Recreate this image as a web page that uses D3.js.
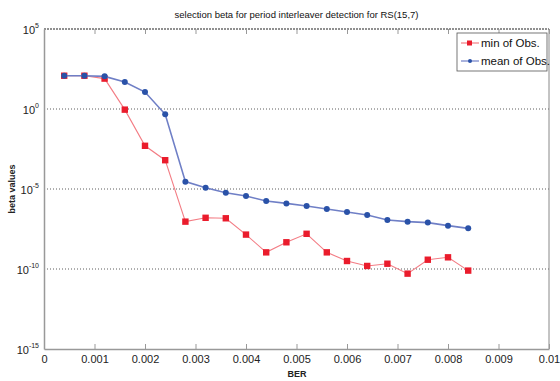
<!DOCTYPE html>
<html>
<head>
<meta charset="utf-8">
<script src="https://cdn.jsdelivr.net/npm/d3@7"></script>
<style>
  body { margin: 0; background: #fff; }
  svg { font-family: "Liberation Sans Narrow", "Liberation Sans", Arial, sans-serif; }
</style>
</head>
<body>
<div id="chart"></div>
<script>
// data (y as log10 of beta)
var berValues = [0.0004, 0.0008, 0.0012, 0.0016, 0.002, 0.0024, 0.0028, 0.0032, 0.0036, 0.004,
  0.0044, 0.0048, 0.0052, 0.0056, 0.006, 0.0064, 0.0068, 0.0072, 0.0076, 0.008, 0.0084];
var minLog = [2.08, 2.08, 1.9, -0.04, -2.3, -3.2, -7.04, -6.8, -6.83, -7.85,
  -8.96, -8.33, -7.8, -8.96, -9.5, -9.81, -9.67, -10.29, -9.42, -9.27, -10.1];
var meanLog = [2.08, 2.08, 2.04, 1.69, 1.06, -0.33, -4.54, -4.92, -5.23, -5.44,
  -5.75, -5.9, -6.06, -6.25, -6.44, -6.63, -6.94, -7.04, -7.1, -7.29, -7.46];
var xTicks = [0, 0.001, 0.002, 0.003, 0.004, 0.005, 0.006, 0.007, 0.008, 0.009, 0.01];
var xTickLabels = ["0", "0.001", "0.002", "0.003", "0.004", "0.005", "0.006", "0.007", "0.008", "0.009", "0.01"];
var yExponents = [5, 0, -5, -10, -15];
var seriesNames = ["min of Obs.", "mean of Obs."];

var margin = { top: 29, right: 11, bottom: 32, left: 44 },
  width = 560 - margin.left - margin.right,
  height = 381 - margin.top - margin.bottom;

var svg = d3.select("#chart")
  .append("svg")
  .attr("width", 560)
  .attr("height", 381);

var g = svg.append("g")
  .attr("transform", "translate(" + margin.left + "," + margin.top + ")");

var xScale = d3.scaleLinear().domain([0, 0.01]).range([0, width]);
// log10 values on a linear scale == log axis
var yScale = d3.scaleLinear().domain([-15, 5]).range([height, 0]);

// grid lines (horizontal only)
g.selectAll(".grid")
  .data(yExponents.filter(function(d) { return d > -15 && d < 5; }))
  .enter()
  .append("line")
  .attr("x1", 0)
  .attr("x2", width)
  .attr("y1", function(d) { return yScale(d); })
  .attr("y2", function(d) { return yScale(d); })
  .attr("stroke", "#333")
  .attr("stroke-width", 0.8)
  .attr("stroke-dasharray", "1,2");

// box
g.append("line").attr("x1", 0).attr("x2", width).attr("y1", 0).attr("y2", 0)
  .attr("stroke", "#222").attr("stroke-width", 1.2).attr("stroke-dasharray", "2,1");
g.append("line").attr("x1", width).attr("x2", width).attr("y1", 0).attr("y2", height)
  .attr("stroke", "#888").attr("stroke-width", 1);

// bottom axis
var xAxis = g.append("g")
  .attr("transform", "translate(0," + height + ")")
  .call(d3.axisBottom(xScale).tickValues(xTicks)
    .tickFormat(function(d, i) { return xTickLabels[i]; })
    .tickSizeInner(-5).tickSizeOuter(0).tickPadding(6));
xAxis.select(".domain").attr("stroke", "#999").attr("stroke-width", 1.5);
xAxis.selectAll(".tick line").attr("stroke", "#999");
xAxis.selectAll(".tick text").attr("font-size", 11).attr("fill", "#222");

// top ticks
var topAxis = g.append("g")
  .call(d3.axisTop(xScale).tickValues(xTicks).tickFormat("")
    .tickSizeInner(-5).tickSizeOuter(0));
topAxis.select(".domain").remove();
topAxis.selectAll(".tick line").attr("stroke", "#999");

// left axis
var yAxis = g.append("g")
  .call(d3.axisLeft(yScale).tickValues(yExponents).tickFormat("")
    .tickSizeInner(0).tickSizeOuter(0));
yAxis.select(".domain").attr("stroke", "#999").attr("stroke-width", 1.5);

var yLab = g.selectAll(".ylab")
  .data(yExponents)
  .enter()
  .append("text")
  .attr("x", -5)
  .attr("y", function(d) { return yScale(d) + 5; })
  .attr("text-anchor", "end")
  .attr("font-size", 11)
  .attr("fill", "#222");
yLab.append("tspan").text("10");
yLab.append("tspan")
  .attr("dy", -6)
  .attr("font-size", 7)
  .text(function(d) { return d; });

// title and labels
svg.append("text")
  .attr("x", margin.left + width / 2)
  .attr("y", 18)
  .attr("text-anchor", "middle")
  .attr("font-size", 9.5)
  .attr("fill", "#111")
  .text("selection beta for period interleaver detection for RS(15,7)");

svg.append("text")
  .attr("transform", "translate(15," + (margin.top + height / 2) + ")rotate(-90)")
  .attr("text-anchor", "middle")
  .attr("font-size", 9)
  .attr("font-weight", "bold")
  .attr("fill", "#222")
  .text("beta values");

svg.append("text")
  .attr("x", 297)
  .attr("y", 377)
  .attr("text-anchor", "middle")
  .attr("font-size", 9)
  .attr("font-weight", "bold")
  .attr("fill", "#222")
  .text("BER");

// series
var series = [
  { name: seriesNames[0], values: minLog, line: "#f37c84", mark: "#ea1c2c", shape: "square" },
  { name: seriesNames[1], values: meanLog, line: "#6f7fc6", mark: "#2a52a8", shape: "circle" }
];

var line = d3.line()
  .x(function(d, i) { return xScale(berValues[i]); })
  .y(function(d) { return yScale(d); });

series.forEach(function(s) {
  g.append("path")
    .datum(s.values)
    .attr("fill", "none")
    .attr("stroke", s.line)
    .attr("stroke-width", s.shape == "circle" ? 1.6 : 1.1)
    .attr("d", line);

  if (s.shape == "square") {
    g.selectAll(".sq")
      .data(s.values)
      .enter()
      .append("rect")
      .attr("x", function(d, i) { return xScale(berValues[i]) - 3.2; })
      .attr("y", function(d) { return yScale(d) - 3.2; })
      .attr("width", 6.4)
      .attr("height", 6.4)
      .attr("fill", s.mark);
  } else {
    g.selectAll(".ci")
      .data(s.values)
      .enter()
      .append("circle")
      .attr("cx", function(d, i) { return xScale(berValues[i]); })
      .attr("cy", function(d) { return yScale(d); })
      .attr("r", 3)
      .attr("fill", s.mark);
  }
});

// legend
var legend = svg.append("g").attr("transform", "translate(457,33)");
legend.append("rect")
  .attr("width", 90)
  .attr("height", 38)
  .attr("fill", "#fff")
  .attr("stroke", "#555")
  .attr("stroke-width", 0.8);

series.forEach(function(s, i) {
  var yy = 10 + i * 18;
  legend.append("line")
    .attr("x1", 4).attr("x2", 22)
    .attr("y1", yy).attr("y2", yy)
    .attr("stroke", s.line)
    .attr("stroke-width", 1.2);
  if (s.shape == "square") {
    legend.append("rect")
      .attr("x", 10).attr("y", yy - 2.5)
      .attr("width", 5).attr("height", 5)
      .attr("fill", s.mark);
  } else {
    legend.append("circle")
      .attr("cx", 13).attr("cy", yy).attr("r", 2)
      .attr("fill", s.mark);
  }
  legend.append("text")
    .attr("x", 24)
    .attr("y", yy + 4)
    .attr("font-size", 11.5)
    .attr("fill", "#111")
    .text(s.name);
});
</script>
</body>
</html>
